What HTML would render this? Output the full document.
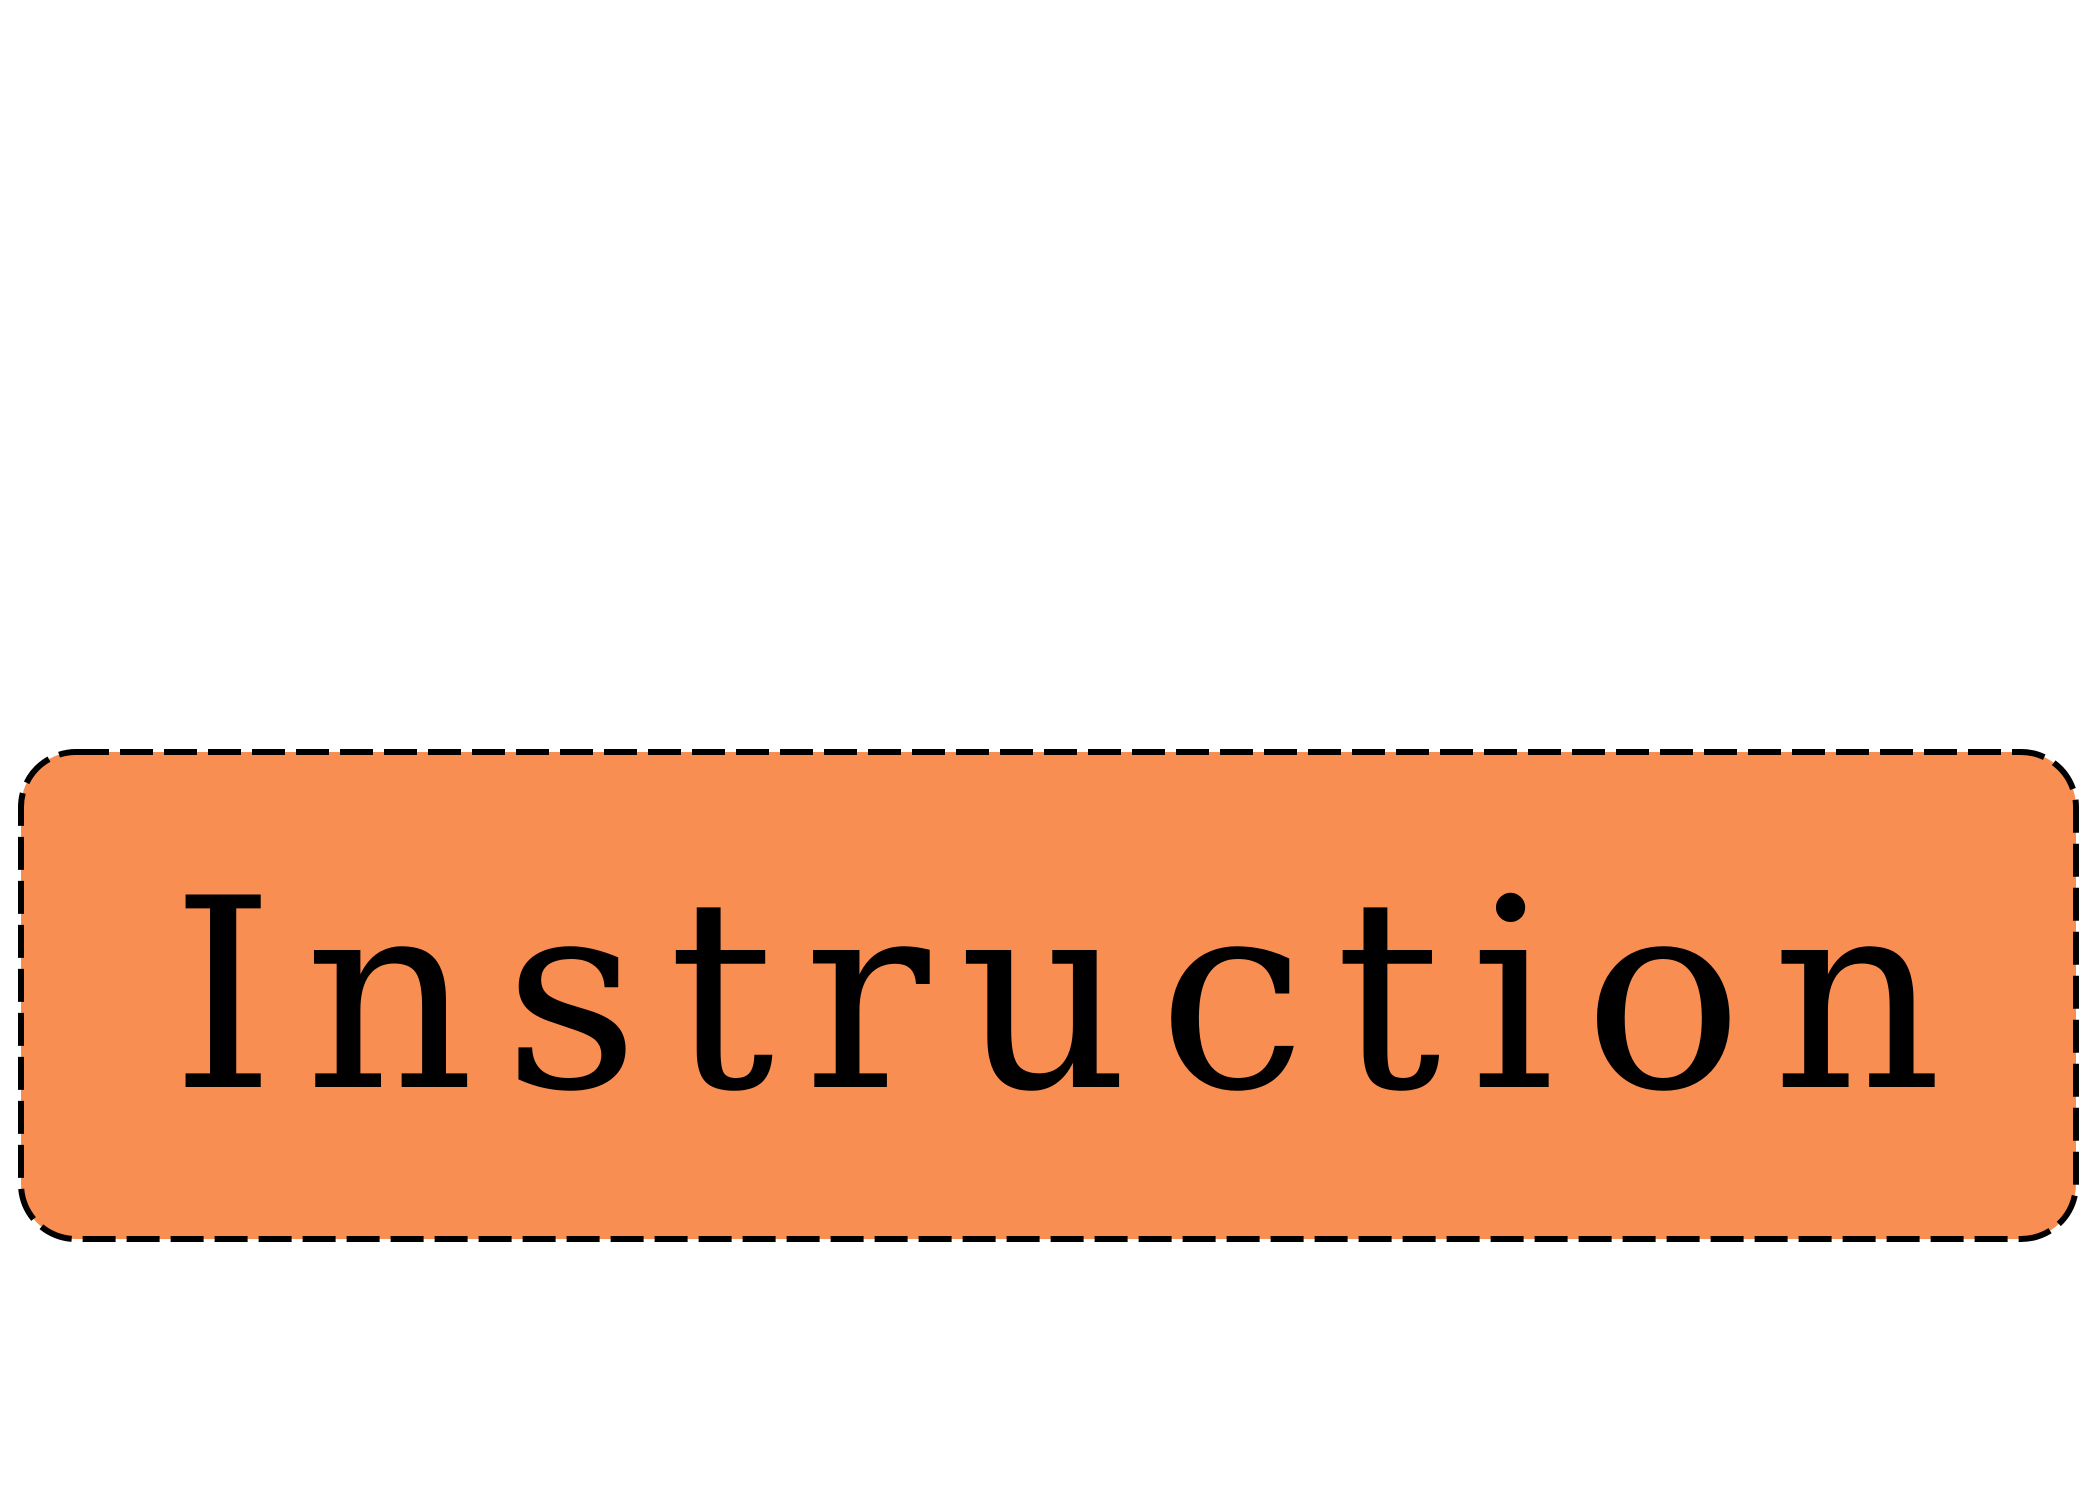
<!DOCTYPE html>
<html><head><meta charset="utf-8"><style>html,body{margin:0;padding:0;background:#fff}svg{display:block}</style></head>
<body>
<svg width="2100" height="1500" viewBox="0 0 2100 1500" xmlns="http://www.w3.org/2000/svg">
<rect x="21" y="752" width="2055" height="487" rx="55" ry="55" fill="#F98E52" stroke="#000" stroke-width="6" stroke-dasharray="33,11"/>
<text x="171" y="1087" font-family="'DejaVu Serif', 'DejaVu Serif Condensed', 'Liberation Serif', serif" font-size="264" textLength="1771" lengthAdjust="spacing" fill="#000">Instruction</text>
</svg>
</body></html>
